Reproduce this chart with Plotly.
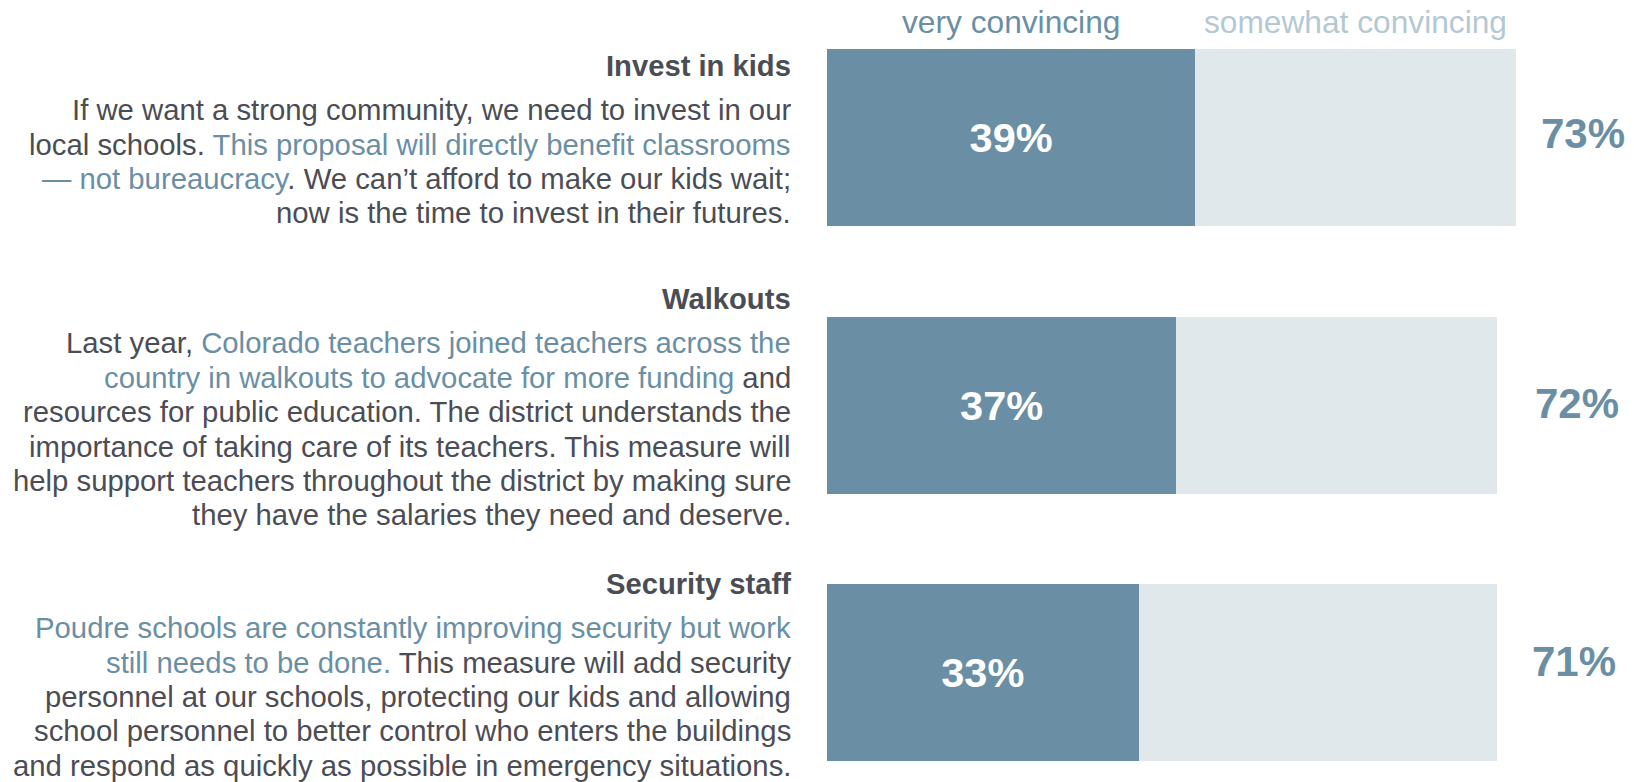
import plotly.graph_objects as go

# ---- data ----
categories = ["Invest in kids", "Walkouts", "Security staff"]
very_convincing = [39, 37, 33]
somewhat_convincing = [34, 34, 38]
total_labels = ["73%", "72%", "71%"]
legend_labels = ["very convincing", "somewhat convincing"]

# statement text; [..] marks highlighted phrases
statements = [
    [
        "If we want a strong community, we need to invest in our",
        "local schools. [This proposal will directly benefit classrooms]",
        "[— not bureaucracy]. We can’t afford to make our kids wait;",
        "now is the time to invest in their futures.",
    ],
    [
        "Last year, [Colorado teachers joined teachers across the]",
        "[country in walkouts to advocate for more funding] and",
        "resources for public education. The district understands the",
        "importance of taking care of its teachers. This measure will",
        "help support teachers throughout the district by making sure",
        "they have the salaries they need and deserve.",
    ],
    [
        "[Poudre schools are constantly improving security but work]",
        "[still needs to be done.] This measure will add security",
        "personnel at our schools, protecting our kids and allowing",
        "school personnel to better control who enters the buildings",
        "and respond as quickly as possible in emergency situations.",
    ],
]

# ---- styles / layout ----
DARK = "#6a8fa5"
LIGHT = "#e0e8ec"
LEGEND_LIGHT = "#b4c8d3"
TEXT = "#4b4d55"
FONT = "Liberation Sans, Arial, sans-serif"

PAGE_OFFSET = 8  # default body margin of the html page
W, H = 1634, 782
PX_PER_UNIT_X = 9.44
X0_PX = 827 - PAGE_OFFSET
X_RANGE = [-X0_PX / PX_PER_UNIT_X, (W - X0_PX) / PX_PER_UNIT_X]
ROW_PX = 267.6
ROW0_PX = 137.6 - PAGE_OFFSET
Y_RANGE = [(H - ROW0_PX) / ROW_PX, -ROW0_PX / ROW_PX]
BAR_W = 0.662

# small placement tweaks of the total labels (position styling)
TOTAL_X = [80.1, 79.4, 79.1]
TOTAL_DY_PX = [-4, -1.5, -11.5]

ypos = list(range(len(categories)))

fig = go.Figure()
fig.add_trace(go.Bar(
    y=ypos, x=very_convincing, orientation="h", name=legend_labels[0],
    marker=dict(color=DARK, line=dict(width=0)), width=BAR_W,
    texttemplate="<b>%{x}%</b>", textposition="inside", insidetextanchor="middle",
    textangle=0, insidetextfont=dict(family=FONT, size=41.5, color="white"),
    hoverinfo="skip",
))
fig.add_trace(go.Bar(
    y=ypos, x=somewhat_convincing, orientation="h", name=legend_labels[1],
    marker=dict(color=LIGHT, line=dict(width=0)), width=BAR_W,
    hoverinfo="skip",
))

annotations = []


def markup(line):
    return (line.replace("[", f"<span style='color:{DARK}'>")
                .replace("]", "</span>"))


TEXT_RIGHT = (793 - PAGE_OFFSET - X0_PX) / PX_PER_UNIT_X
TEXT_DY_PX = 2.0
LINE_PX = 34.4
TITLE_GAP_PX = 43.5
for i, (cat, lines) in enumerate(zip(categories, statements)):
    block_h = TITLE_GAP_PX + (len(lines) - 1) * LINE_PX
    top = i + (TEXT_DY_PX - block_h / 2) / ROW_PX
    annotations.append(dict(
        x=TEXT_RIGHT, y=top, xref="x", yref="y", xanchor="right", yanchor="middle",
        text=f"<b>{cat}</b>", showarrow=False, align="right",
        font=dict(family=FONT, size=29.2, color=TEXT),
    ))
    for j, ln in enumerate(lines):
        yy = top + (TITLE_GAP_PX + j * LINE_PX) / ROW_PX
        annotations.append(dict(
            x=TEXT_RIGHT, y=yy, xref="x", yref="y", xanchor="right", yanchor="middle",
            text=markup(ln), showarrow=False, align="right",
            font=dict(family=FONT, size=29.3, color=TEXT),
        ))
    annotations.append(dict(
        x=TOTAL_X[i], y=i + TOTAL_DY_PX[i] / ROW_PX, xref="x", yref="y",
        xanchor="center", yanchor="middle",
        text=f"<b>{total_labels[i]}</b>", showarrow=False,
        font=dict(family=FONT, size=42, color=DARK),
    ))

legend_y = (23 - PAGE_OFFSET - 1 - ROW0_PX) / ROW_PX
annotations.append(dict(
    x=very_convincing[0] / 2, y=legend_y, xref="x", yref="y",
    xanchor="center", yanchor="middle", text=legend_labels[0], showarrow=False,
    borderpad=0, font=dict(family=FONT, size=31.7, color=DARK),
))
annotations.append(dict(
    x=very_convincing[0] + somewhat_convincing[0] / 2, y=legend_y, xref="x", yref="y",
    xanchor="center", yanchor="middle", text=legend_labels[1], showarrow=False,
    borderpad=0, font=dict(family=FONT, size=31.7, color=LEGEND_LIGHT),
))

fig.update_layout(
    width=W, height=H, barmode="stack", showlegend=False,
    margin=dict(l=0, r=0, t=0, b=0, pad=0),
    paper_bgcolor="white", plot_bgcolor="white",
    xaxis=dict(range=X_RANGE, visible=False, fixedrange=True),
    yaxis=dict(range=Y_RANGE, visible=False, fixedrange=True),
    annotations=annotations,
    uniformtext=dict(mode=False),
)

fig.write_html("out.html", config={"displayModeBar": False})
